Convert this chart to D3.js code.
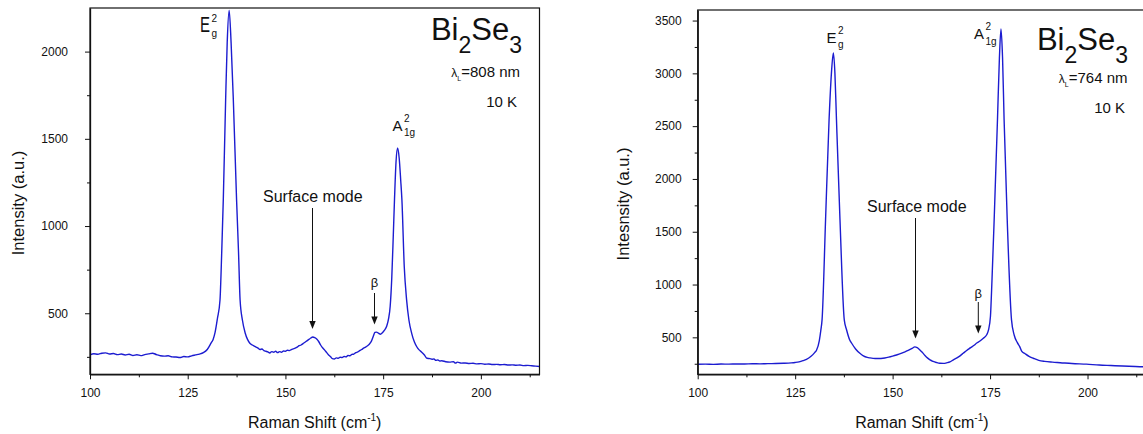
<!DOCTYPE html>
<html><head><meta charset="utf-8">
<script src="https://cdn.jsdelivr.net/npm/d3@7"></script>
<style>
html,body{margin:0;padding:0;background:#fff;}
svg{display:block;}
text{font-family:"Liberation Sans",Arial,sans-serif;fill:#111;}
</style></head>
<body>
<svg id="chart" width="1143" height="434"></svg>
<script>
// ---------- data ----------
const xMajorTicks = [100, 125, 150, 175, 200];
const xMinorTicks = [112.5, 137.5, 162.5, 187.5, 212.5];
const yMajorTicksL = [500, 1000, 1500, 2000];
const yMinorTicksL = [250, 750, 1250, 1750];
const yMajorTicksR = [500, 1000, 1500, 2000, 2500, 3000, 3500];
const yMinorTicksR = [250, 750, 1250, 1750, 2250, 2750, 3250];

// Left spectrum (808 nm)
const shiftL = [100,101,102,103,104,105,106,107,108,109,110,111,112,113,114,115,116,117,118,119,120,121,122,123,124,125,126,127,128,129,130,131,131.5,132,132.6,133.26,133.7,134.1,134.7,135.1,135.6,136.1,136.67,137.5,138,138.4,139,139.7,140.3,140.9,141.5,142,142.5,143,143.5,144,144.5,145,145.5,146,146.5,147,147.5,148,148.5,149,149.5,150,150.5,151,151.5,152,152.5,153,153.5,154,154.5,155,155.5,156,156.5,157,157.5,158,158.5,159,159.5,160,160.5,161,161.5,162,162.5,163,163.5,164,164.5,165,165.5,166,166.5,167,167.5,168,168.5,169,169.5,170,170.5,171,171.5,172,172.5,172.9,173.3,173.8,174.3,174.8,175.3,175.9,176.4,176.8,177.2,177.6,177.9,178.3,178.7,179.1,179.5,179.8,180.4,181,181.6,182.3,183,183.6,184.2,184.8,185.5,186.2,187,187.5,188,188.5,189,189.5,190,191,192,193,193.5,194,195,196,197,198,199,200,201,202,203,204,205,206,207,208,209,210,211,212,213,214,215];
const intensityL = [262,268,265,271,273,266,269,263,266,261,265,258,262,257,263,267,271,263,256,254,256,250,249,246,252,250,256,261,266,274,292,330,350,390,470,576,850,1150,1723,2050,2236,2050,1723,1150,850,576,460,387,350,328,318,312,306,300,292,295,286,282,278,272,280,276,282,274,280,276,284,282,288,286,292,296,300,306,314,318,326,334,342,350,358,364,360,352,338,318,302,290,276,262,252,240,238,244,242,248,246,252,250,258,256,264,266,274,278,286,292,300,306,314,324,340,370,390,392,386,380,388,402,425,470,540,700,950,1150,1370,1447,1390,1260,1150,767,577,460,385,335,308,290,278,262,242,240,236,238,230,232,226,228,222,220,222,214,220,214,215,212,213,210,211,208,209,206,207,205,206,203,204,202,203,200,201,199,197,195];

// Right spectrum (764 nm)
const shiftR = [100,102,104,106,108,110,112,114,116,118,120,122,124,125,126,127,127.9,129,130,130.5,131.2,131.6,131.9,132.8,133.7,134.3,134.8,135.2,135.6,136.5,137.6,138.2,139,139.5,140.5,141.6,142.5,143.5,144.2,145,146,147,148,149,150,151,152,153,154,155,155.7,156.3,157,157.6,158.3,159,159.6,160.4,161.2,162.1,163,164,164.7,165.5,166.5,167.3,168.1,169,170,171,171.5,172.4,173.2,174.1,174.6,175.1,175.5,176.05,176.9,177.4,177.8,178.2,178.6,179.4,180.5,181.2,182,182.6,183.1,184,185,186.1,187.5,189,191,193,196,199.7,203,206,209,213.4,215];
const intensityR = [245,246,244,247,246,248,247,250,249,251,252,254,258,262,268,279,292,318,355,380,470,570,665,1613,2560,3000,3193,3000,2560,1613,665,570,475,444,390,349,325,310,305,301,299,300,304,312,322,333,345,360,376,395,410,402,380,358,328,303,286,272,262,254,253,260,268,285,305,325,349,376,402,428,444,465,490,522,570,700,1050,1613,2561,3150,3420,3150,2561,1613,665,520,450,412,370,345,320,302,282,272,265,260,252,246,238,233,228,222,220];

// ---------- drawing ----------
const svg = d3.select("#chart");
const FONT = '"Liberation Sans",Arial,sans-serif';
const LINE = "#1c1cd0";

const panels = [
  {id:"L", px:[90,539.5], py:[374.3,8], yDomain:[150,2250], yMaj:yMajorTicksL, yMin:yMinorTicksL,
   xs:shiftL, ys:intensityL, yPad:17, ytitle:"Intensity (a.u.)", ytX:23.5, ytY:203},
  {id:"R", px:[697.7,1146], py:[374.3,10], yDomain:[150,3600], yMaj:yMajorTicksR, yMin:yMinorTicksR,
   xs:shiftR, ys:intensityR, yPad:11, ytitle:"Intesnsity (a.u.)", ytX:629, ytY:204}
];

panels.forEach(p => {
  const x = d3.scaleLinear().domain([100,215]).range(p.px);
  const y = d3.scaleLinear().domain(p.yDomain).range(p.py);
  const g = svg.append("g");

  g.append("clipPath").attr("id","clip"+p.id).append("rect")
    .attr("x",p.px[0]).attr("y",p.py[1]).attr("width",p.px[1]-p.px[0]).attr("height",p.py[0]-p.py[1]);

  const pts = p.xs.map((v,i)=>[v,p.ys[i]]);
  g.append("path").datum(pts)
    .attr("clip-path","url(#clip"+p.id+")")
    .attr("fill","none").attr("stroke",LINE).attr("stroke-width",1.4)
    .attr("stroke-linejoin","round")
    .attr("d", d3.line().x(d=>x(d[0])).y(d=>y(d[1])).curve(d3.curveMonotoneX));

  const gx = g.append("g").attr("transform",`translate(0,${p.py[0]})`);
  gx.call(d3.axisBottom(x).tickValues(xMajorTicks).tickSize(5).tickSizeOuter(0).tickPadding(9).tickFormat(d3.format("d")));
  const gxm = g.append("g").attr("transform",`translate(0,${p.py[0]})`);
  gxm.call(d3.axisBottom(x).tickValues(xMinorTicks).tickSize(3).tickSizeOuter(0).tickFormat(""));
  gxm.select(".domain").remove();

  const gy = g.append("g").attr("transform",`translate(${p.px[0]},0)`);
  gy.call(d3.axisLeft(y).tickValues(p.yMaj).tickSize(5).tickSizeOuter(0).tickPadding(p.yPad).tickFormat(d3.format("d")));
  const gym = g.append("g").attr("transform",`translate(${p.px[0]},0)`);
  gym.call(d3.axisLeft(y).tickValues(p.yMin).tickSize(3).tickSizeOuter(0).tickFormat(""));
  gym.select(".domain").remove();

  [gx,gxm,gy,gym].forEach(a=>{
    a.selectAll("text").attr("font-size",12).attr("font-family",FONT).attr("fill","#111");
    a.selectAll("line").attr("stroke","#111").attr("stroke-width",1);
    a.selectAll(".domain").attr("stroke","#111").attr("stroke-width",1.3);
  });

  g.append("rect").attr("x",p.px[0]).attr("y",p.py[1]).attr("width",p.px[1]-p.px[0]).attr("height",p.py[0]-p.py[1])
    .attr("fill","none").attr("stroke","#111").attr("stroke-width",1.2);

  const xt = g.append("text").attr("x",(p.px[0]+p.px[1])/2).attr("y",428)
    .attr("text-anchor","middle").attr("font-size",16);
  xt.append("tspan").text("Raman Shift (cm");
  xt.append("tspan").attr("font-size",10).attr("dy",-7).text("-1");
  xt.append("tspan").attr("dy",7).text(")");

  g.append("text").attr("transform",`translate(${p.ytX},${p.ytY}) rotate(-90)`)
    .attr("text-anchor","middle").attr("font-size",16.5).text(p.ytitle);
});

// ---------- annotations ----------
function label(x,y,txt,size,anchor){
  return svg.append("text").attr("x",x).attr("y",y).attr("font-size",size)
    .attr("text-anchor",anchor||"start").text(txt);
}
function mode(x,y,main,sup,sub,size,sy){
  svg.append("text").attr("transform",`translate(${x},${y}) scale(1,${sy||1})`).attr("font-size",size).text(main);
  const w = size*0.667;
  label(x+w+1.5, y-(sy?9.5:9), sup, 10);
  label(x+w+1.5, y+5.5, sub, 10);
}
mode(200,31.5,"E","2","g",15,1.45);
mode(392.5,130.7,"A","2","1g",15);
mode(826.5,42.7,"E","2","g",15);
mode(974,39,"A","2","1g",15);

function compound(xEnd,y){
  const t = svg.append("text").attr("x",xEnd).attr("y",y).attr("text-anchor","end").attr("font-size",31);
  t.append("tspan").text("Bi");
  t.append("tspan").attr("font-size",23).attr("dy",13).text("2");
  t.append("tspan").attr("dy",-13).text("Se");
  t.append("tspan").attr("font-size",23).attr("dy",13).text("3");
}
compound(522,40);
compound(1128,50);

function laser(xEnd,y,nm){
  const t = svg.append("text").attr("x",xEnd).attr("y",y).attr("text-anchor","end").attr("font-size",15);
  t.append("tspan").attr("font-size",12).text("λ");
  t.append("tspan").attr("font-size",7).attr("dy",3.5).text("L");
  t.append("tspan").attr("dy",-3.5).text("=" + nm + " nm");
}
laser(520,77.3,"808");
laser(1127.5,83.3,"764");
label(517,106.7,"10 K",15,"end");
label(1125,112.7,"10 K",15,"end");

function arrow(x,y1,y2){
  svg.append("line").attr("x1",x).attr("x2",x).attr("y1",y1).attr("y2",y2-6)
    .attr("stroke","#111").attr("stroke-width",1);
  svg.append("path").attr("d",`M${x-3.2},${y2-8} L${x+3.2},${y2-8} L${x},${y2} Z`).attr("fill","#111");
}
label(263,201.7,"Surface mode",16);
arrow(312.5,208,329);
label(374.5,286.7,"β",13,"middle");
arrow(374.5,293,324.5);

label(867,212.3,"Surface mode",16);
arrow(915.5,218,338.5);
label(978.3,297.5,"β",13,"middle");
arrow(978.3,302,333.5);
</script>
</body></html>
